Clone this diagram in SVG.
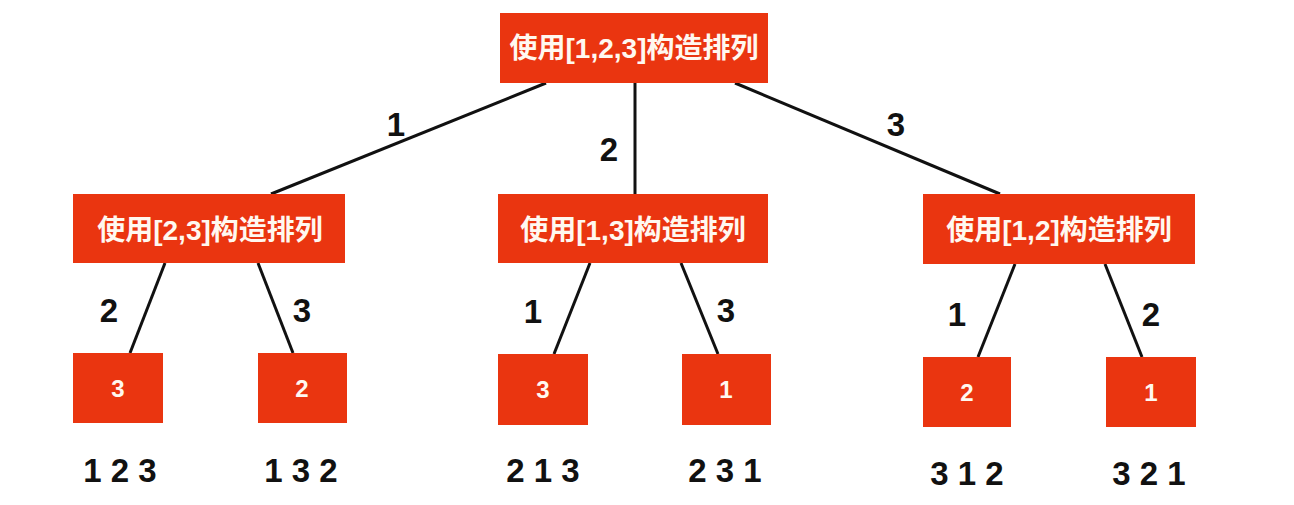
<svg xmlns="http://www.w3.org/2000/svg" width="1294" height="505" viewBox="0 0 1294 505">
<style>
.box{fill:#ea3510;}
.bt{fill:#fff8f0;font-family:"Liberation Sans","Noto Sans CJK SC",sans-serif;font-weight:bold;font-size:28px;text-anchor:middle;}
.lt{fill:#fff8f0;font-family:"Liberation Sans",sans-serif;font-weight:bold;font-size:24px;text-anchor:middle;}
.el{fill:#111;font-family:"Liberation Sans",sans-serif;font-weight:bold;font-size:33px;text-anchor:middle;}
.res{fill:#111;font-family:"Liberation Sans",sans-serif;font-weight:bold;font-size:33px;text-anchor:middle;}
.edge{stroke:#111;stroke-width:3;fill:none;}
</style>
<rect width="1294" height="505" fill="#ffffff"/>
<g id="connectors">
<line class="edge" x1="546" y1="83" x2="271" y2="194"/>
<line class="edge" x1="635" y1="83" x2="635" y2="194"/>
<line class="edge" x1="735" y1="83" x2="1000" y2="194"/>
<line class="edge" x1="165" y1="263" x2="130" y2="353"/>
<line class="edge" x1="258" y1="263" x2="293" y2="353"/>
<line class="edge" x1="590" y1="263" x2="554" y2="354"/>
<line class="edge" x1="681" y1="263" x2="718" y2="354"/>
<line class="edge" x1="1015" y1="264" x2="978" y2="357"/>
<line class="edge" x1="1105" y1="264" x2="1142" y2="357"/>
<text class="el" x="396" y="136">1</text>
<text class="el" x="609" y="161">2</text>
<text class="el" x="896" y="136">3</text>
<text class="el" x="109" y="322">2</text>
<text class="el" x="302" y="322">3</text>
<text class="el" x="533" y="323">1</text>
<text class="el" x="726" y="322">3</text>
<text class="el" x="957" y="326">1</text>
<text class="el" x="1151" y="326">2</text>
</g>
<g id="root">
<rect class="box" x="500" y="13" width="268" height="70"/>
<text class="bt" x="634" y="58">使用[1,2,3]构造排列</text>
</g>
<g id="n23">
<rect class="box" x="73" y="194" width="272" height="69"/>
<text class="bt" x="210" y="240">使用[2,3]构造排列</text>
</g>
<g id="n13">
<rect class="box" x="498" y="194" width="270" height="69"/>
<text class="bt" x="633" y="240">使用[1,3]构造排列</text>
</g>
<g id="n12">
<rect class="box" x="923" y="194" width="272" height="70"/>
<text class="bt" x="1059" y="240">使用[1,2]构造排列</text>
</g>
<g id="leaf123">
<rect class="box" x="73" y="353" width="90" height="70"/>
<text class="lt" x="118" y="397">3</text>
<text class="res" x="120" y="482">1 2 3</text>
</g>
<g id="leaf132">
<rect class="box" x="258" y="353" width="89" height="70"/>
<text class="lt" x="302" y="397">2</text>
<text class="res" x="301" y="482">1 3 2</text>
</g>
<g id="leaf213">
<rect class="box" x="498" y="354" width="90" height="71"/>
<text class="lt" x="543" y="398">3</text>
<text class="res" x="543" y="482">2 1 3</text>
</g>
<g id="leaf231">
<rect class="box" x="682" y="354" width="89" height="71"/>
<text class="lt" x="726" y="398">1</text>
<text class="res" x="725" y="482">2 3 1</text>
</g>
<g id="leaf312">
<rect class="box" x="923" y="357" width="88" height="70"/>
<text class="lt" x="967" y="401">2</text>
<text class="res" x="967" y="485">3 1 2</text>
</g>
<g id="leaf321">
<rect class="box" x="1106" y="357" width="90" height="70"/>
<text class="lt" x="1151" y="401">1</text>
<text class="res" x="1149" y="485">3 2 1</text>
</g>
</svg>
